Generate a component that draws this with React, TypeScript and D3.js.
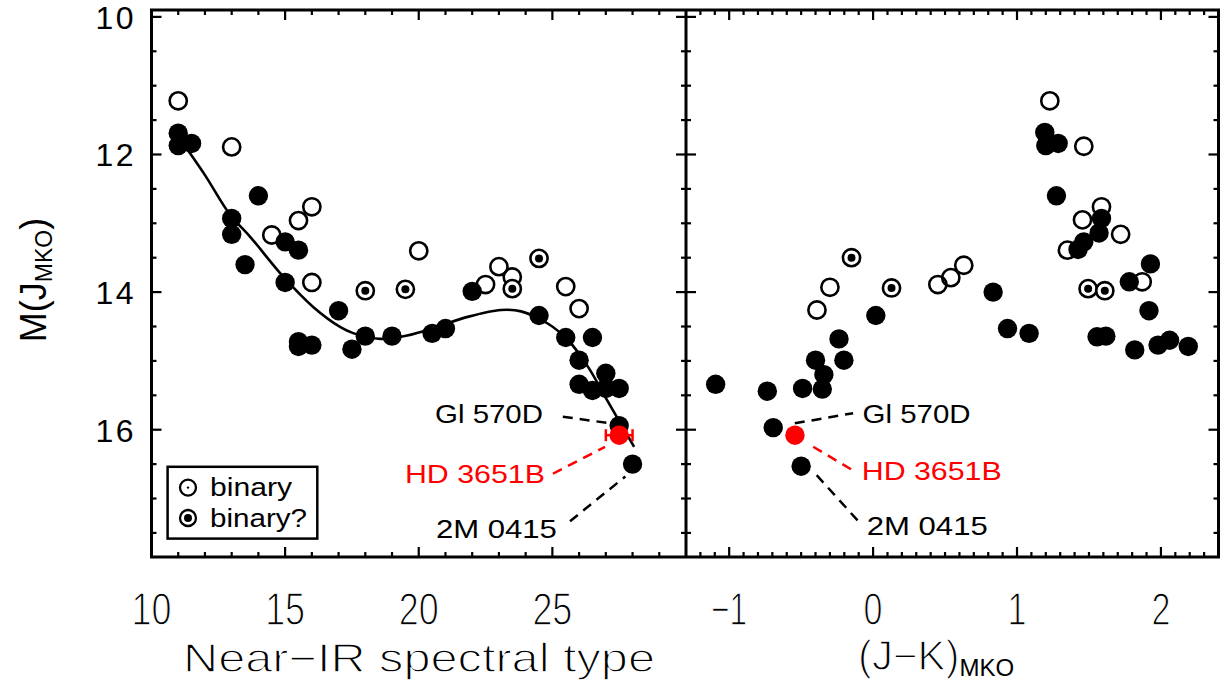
import React from "react";
import * as d3 from "d3";

// ---------- data ----------
// Left panel: near-IR spectral type (10 = L0, 20 = T0) vs M(J_MKO)
const leftSingle: [number, number][] = [
  [11, 11.69], [11, 11.87], [11.5, 11.84], [14, 12.6], [13, 12.93], [13, 13.16],
  [13.5, 13.6], [15, 13.27], [15.5, 13.39], [15, 13.86], [17, 14.27], [15.5, 14.72],
  [15.5, 14.79], [16, 14.77], [17.5, 14.83], [18, 14.64], [19, 14.64], [20.5, 14.6],
  [21, 14.53], [22, 13.99], [24.5, 14.34], [25.5, 14.66], [26.5, 14.66], [26, 14.99],
  [27, 15.18], [26, 15.34], [26.5, 15.43], [27, 15.4], [27.5, 15.4], [27.5, 15.94],
  [28, 16.5],
];
const leftBinary: [number, number][] = [
  [11, 11.22], [13, 11.89], [16, 12.76], [15.5, 12.96], [14.5, 13.17], [16, 13.86],
  [20, 13.4], [23, 13.63], [22.5, 13.89], [23.5, 13.78], [25.5, 13.92], [26, 14.24],
];
const leftBinaryQ: [number, number][] = [
  [18, 13.98], [19.5, 13.96], [24.5, 13.51], [23.5, 13.95],
];
// polynomial relation
const fitCurve: [number, number][] = [
  [11, 11.74], [12, 12.3], [12.93, 12.87], [13.7, 13.2], [14.94, 13.78], [16.06, 14.22],
  [17.07, 14.51], [17.57, 14.6], [18.57, 14.68], [19.57, 14.63], [20.57, 14.52],
  [21.83, 14.36], [23.08, 14.26], [23.83, 14.28], [24.84, 14.46], [25.59, 14.7],
  [26.34, 15.09], [27.09, 15.6], [28.06, 16.25],
];

// Right panel: (J-K)_MKO vs M(J_MKO)
const rightSingle: [number, number][] = [
  [-1.094, 15.34], [-0.735, 15.44], [-0.49, 15.4], [-0.353, 15.41], [-0.342, 15.2],
  [-0.4, 14.99], [-0.203, 14.99], [-0.237, 14.68], [0.019, 14.34], [-0.694, 15.97],
  [-0.5, 16.53], [0.834, 14.0], [0.934, 14.53], [1.084, 14.6], [1.193, 11.68],
  [1.2, 11.87], [1.286, 11.84], [1.274, 12.6], [1.587, 12.93], [1.57, 13.14],
  [1.464, 13.27], [1.424, 13.38], [1.927, 13.59], [1.78, 13.85], [1.917, 14.27],
  [1.556, 14.65], [1.617, 14.64], [1.818, 14.84], [1.98, 14.77], [2.06, 14.7],
  [2.19, 14.79],
];
const rightBinary: [number, number][] = [
  [-0.39, 14.26], [-0.3, 13.93], [0.45, 13.89], [0.54, 13.79], [0.63, 13.61],
  [1.228, 11.22], [1.464, 11.88], [1.587, 12.76], [1.455, 12.95], [1.72, 13.16],
  [1.35, 13.39], [1.87, 13.85],
];
const rightBinaryQ: [number, number][] = [
  [-0.15, 13.5], [0.128, 13.94], [1.494, 13.95], [1.61, 13.98],
];

// HD 3651B
const hdSpt = 27.5;
const hdSptErr = 0.5;
const hdJK = -0.543;
const hdMag = 16.08;

// annotations in data units
type Ann = { label: string; color: string; tx: number; ty: number; x1: number; y1: number; x2: number; y2: number };
const leftAnnotations: Ann[] = [
  { label: "Gl 570D", color: "#000", tx: 24.65, ty: 15.76, x1: 25.39, y1: 15.81, x2: 27.04, y2: 15.9 },
  { label: "HD 3651B", color: "#ff0000", tx: 24.72, ty: 16.63, x1: 25.02, y1: 16.64, x2: 26.97, y2: 16.25 },
  { label: "2M 0415", color: "#000", tx: 25.17, ty: 17.43, x1: 25.66, y1: 17.33, x2: 27.73, y2: 16.68 },
];
const rightAnnotations: Ann[] = [
  { label: "Gl 570D", color: "#000", tx: -0.073, ty: 15.76, x1: -0.544, y1: 15.907, x2: -0.139, y2: 15.76 },
  { label: "HD 3651B", color: "#ff0000", tx: -0.079, ty: 16.6, x1: -0.416, y1: 16.247, x2: -0.126, y2: 16.61 },
  { label: "2M 0415", color: "#000", tx: -0.044, ty: 17.385, x1: -0.392, y1: 16.66, x2: -0.079, y2: 17.385 },
];
const annWidths: Record<string, number> = { "Gl 570D": 108, "HD 3651B": 140, "2M 0415": 121 };

const sptLabels = [10, 15, 20, 25];
const jkLabels = [-1, 0, 1, 2];
const magLabels = [10, 12, 14, 16];

// ---------- layout ----------
const W = 1220;
const H = 685;
const TOP = 10;
const BOT = 557;
const LX0 = 151.5;
const MID = 686;
const RX1 = 1218.5;

const FONT = "'Liberation Sans', Arial, Helvetica, sans-serif";

const xL = d3.scaleLinear().domain([10, 30]).range([LX0, MID]);
const xR = d3.scaleLinear().domain([-1.3, 2.4]).range([MID, RX1]);
const y = d3.scaleLinear().domain([9.9, 17.85]).range([TOP, BOT]);

const R_FILL = 9.7;
const R_RING = 8.6;

function Points({ x, single, binary, binaryQ }: {
  x: d3.ScaleLinear<number, number>;
  single: [number, number][];
  binary: [number, number][];
  binaryQ: [number, number][];
}) {
  return (
    <g>
      {binary.map((d, i) => (
        <circle key={"b" + i} cx={x(d[0])} cy={y(d[1])} r={R_RING} fill="none" stroke="#000" strokeWidth={2.6} />
      ))}
      {single.map((d, i) => (
        <circle key={"s" + i} cx={x(d[0])} cy={y(d[1])} r={R_FILL} fill="#000" />
      ))}
      {binaryQ.map((d, i) => (
        <g key={"q" + i}>
          <circle cx={x(d[0])} cy={y(d[1])} r={R_RING} fill="#fff" stroke="#000" strokeWidth={2.6} />
          <circle cx={x(d[0])} cy={y(d[1])} r={4} fill="#000" />
        </g>
      ))}
    </g>
  );
}

function Annotations({ x, anns, anchor }: { x: d3.ScaleLinear<number, number>; anns: Ann[]; anchor: "start" | "end" }) {
  return (
    <g>
      {anns.map((a, i) => (
        <g key={i}>
          <line x1={x(a.x1)} y1={y(a.y1)} x2={x(a.x2)} y2={y(a.y2)} stroke={a.color} strokeWidth={2.5} strokeDasharray="10,7" />
          <text
            x={x(a.tx)}
            y={y(a.ty) + 9.5}
            fontFamily={FONT}
            fontSize={26}
            fill={a.color}
            textAnchor={anchor}
            textLength={annWidths[a.label]}
            lengthAdjust="spacingAndGlyphs"
          >
            {a.label}
          </text>
        </g>
      ))}
    </g>
  );
}

// thin-stroke look of the plotting font
const thin = { stroke: "#fff", strokeWidth: 1.3 };

export default function App() {
  const sptTicks = d3.range(11, 30);
  const jkTicks = d3.range(-12, 24).map((i) => i / 10);
  const magTicks = d3.range(20, 36).map((i) => i / 2);
  const lineGen = d3
    .line<[number, number]>()
    .x((d) => xL(d[0]))
    .y((d) => y(d[1]))
    .curve(d3.curveCatmullRom.alpha(0.5));

  const isMajorJK = (v: number) => Math.abs(v - Math.round(v)) < 1e-6;
  const tickStroke = 2.2;

  return (
    <svg width={W} height={H} style={{ position: "absolute", left: 0, top: 0, background: "#fff" }}>
      <rect x={0} y={0} width={W} height={H} fill="#fff" />

      {/* fit curve */}
      <path d={lineGen(fitCurve) || ""} fill="none" stroke="#000" strokeWidth={2.6} />

      {/* points */}
      <Points x={xL} single={leftSingle} binary={leftBinary} binaryQ={leftBinaryQ} />
      <Points x={xR} single={rightSingle} binary={rightBinary} binaryQ={rightBinaryQ} />

      {/* HD 3651B */}
      <g stroke="#ff0000" strokeWidth={2.5}>
        <line x1={xL(hdSpt - hdSptErr)} x2={xL(hdSpt + hdSptErr)} y1={y(hdMag)} y2={y(hdMag)} />
        <line x1={xL(hdSpt - hdSptErr)} x2={xL(hdSpt - hdSptErr)} y1={y(hdMag) - 6} y2={y(hdMag) + 6} />
        <line x1={xL(hdSpt + hdSptErr)} x2={xL(hdSpt + hdSptErr)} y1={y(hdMag) - 6} y2={y(hdMag) + 6} />
      </g>
      <circle cx={xL(hdSpt)} cy={y(hdMag)} r={R_FILL} fill="#ff0000" />
      <circle cx={xR(hdJK)} cy={y(hdMag)} r={R_FILL} fill="#ff0000" />

      {/* annotations */}
      <Annotations x={xL} anns={leftAnnotations} anchor="end" />
      <Annotations x={xR} anns={rightAnnotations} anchor="start" />

      {/* legend */}
      <g>
        <rect x={167.6} y={466.8} width={149.7} height={71.8} fill="none" stroke="#000" strokeWidth={2.5} />
        <circle cx={188} cy={487.6} r={8} fill="none" stroke="#000" strokeWidth={2.3} />
        <circle cx={188} cy={487.6} r={1.2} fill="#000" />
        <circle cx={188} cy={518} r={8} fill="#fff" stroke="#000" strokeWidth={2.3} />
        <circle cx={188} cy={518} r={4} fill="#000" />
        <text x={210} y={496} fontFamily={FONT} fontSize={26} textLength={82} lengthAdjust="spacingAndGlyphs">binary</text>
        <text x={210} y={526.5} fontFamily={FONT} fontSize={26} textLength={97} lengthAdjust="spacingAndGlyphs">binary?</text>
      </g>

      {/* ticks */}
      <g stroke="#000" strokeWidth={tickStroke}>
        {sptTicks.map((v) => {
          const len = v % 5 === 0 ? 10 : 5;
          return (
            <g key={"st" + v}>
              <line x1={xL(v)} x2={xL(v)} y1={BOT} y2={BOT - len} />
              <line x1={xL(v)} x2={xL(v)} y1={TOP} y2={TOP + len} />
            </g>
          );
        })}
        {jkTicks.map((v) => {
          const len = isMajorJK(v) ? 10 : 5;
          return (
            <g key={"jt" + v}>
              <line x1={xR(v)} x2={xR(v)} y1={BOT} y2={BOT - len} />
              <line x1={xR(v)} x2={xR(v)} y1={TOP} y2={TOP + len} />
            </g>
          );
        })}
        {magTicks.map((v) => {
          const len = v % 2 === 0 ? 10 : 5;
          return (
            <g key={"mt" + v}>
              <line x1={LX0} x2={LX0 + len} y1={y(v)} y2={y(v)} />
              <line x1={MID - len} x2={MID + len} y1={y(v)} y2={y(v)} />
              <line x1={RX1 - len} x2={RX1} y1={y(v)} y2={y(v)} />
            </g>
          );
        })}
      </g>

      {/* frame */}
      <g fill="none" stroke="#000" strokeWidth={3}>
        <rect x={LX0} y={TOP} width={RX1 - LX0} height={BOT - TOP} />
        <line x1={MID} x2={MID} y1={TOP} y2={BOT} />
      </g>

      {/* tick labels */}
      {magLabels.map((v) => (
        <text key={"ml" + v} x={136} y={y(v) + 12} fontFamily={FONT} fontSize={32} textAnchor="end" letterSpacing={2.5}>
          {v}
        </text>
      ))}
      {sptLabels.map((v) => (
        <text key={"sl" + v} x={xL(v)} y={625} fontFamily={FONT} fontSize={46} textAnchor="middle"
          textLength={40} lengthAdjust="spacingAndGlyphs" {...thin}>
          {v}
        </text>
      ))}
      {jkLabels.map((v) => (
        <text key={"jl" + v} x={xR(v)} y={625} fontFamily={FONT} fontSize={46} textAnchor="middle"
          textLength={v < 0 ? 36 : 19} lengthAdjust="spacingAndGlyphs" {...thin}>
          {v < 0 ? "\u2212" + Math.abs(v) : String(v)}
        </text>
      ))}

      {/* axis titles */}
      <text x={183} y={672} fontFamily={FONT} fontSize={40} textLength={472} lengthAdjust="spacingAndGlyphs" {...thin}>
        Near{"\u2212"}IR spectral type
      </text>
      <text x={858} y={670} fontFamily={FONT} fontSize={42} {...thin}>
        (J{"\u2212"}K)
        <tspan fontSize={24} dy={6} stroke="none">MKO</tspan>
      </text>
      <text transform="translate(46,280) rotate(-90)" fontFamily={FONT} fontSize={36} textAnchor="middle">
        M(J
        <tspan fontSize={23} dy={6}>MKO</tspan>
        <tspan dy={-6}>)</tspan>
      </text>
    </svg>
  );
}
